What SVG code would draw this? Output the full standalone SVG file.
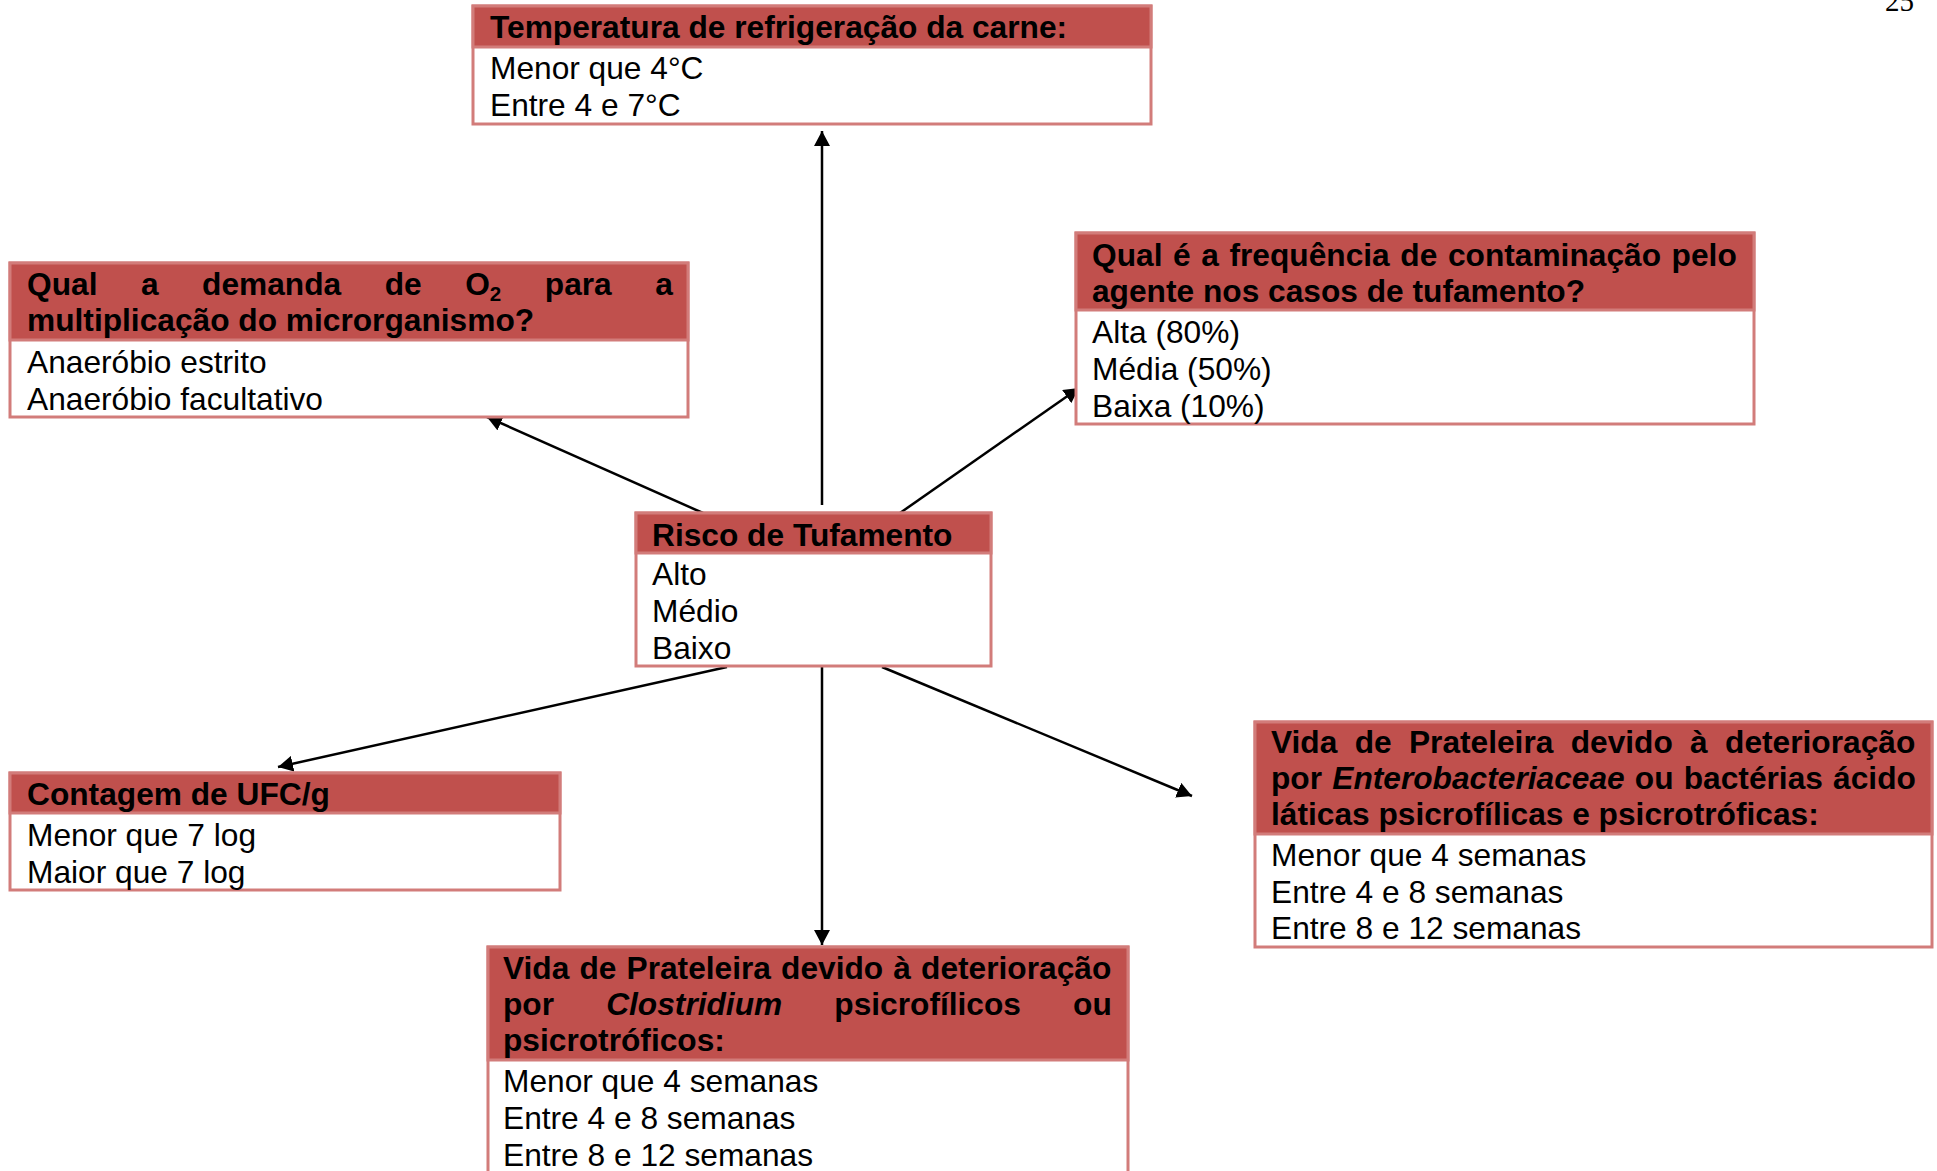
<svg xmlns="http://www.w3.org/2000/svg" width="1937" height="1171" viewBox="0 0 1937 1171">
  <defs>
    <marker id="arr" markerUnits="userSpaceOnUse" markerWidth="16" markerHeight="16" refX="15" refY="8" orient="auto">
      <path d="M0,0 L15,8 L0,16 z" fill="#000"/>
    </marker>
    <style>
      .box { fill: #ffffff; stroke: #D27C7A; stroke-width: 3; }
      .hd { fill: #C0504D; stroke: #D27C7A; stroke-width: 3; }
      .t { font-family: "Liberation Sans", Arial, sans-serif; font-size: 31.7px; fill: #000000; }
      .b { font-weight: bold; }
      .i { font-style: italic; }
      .conn line { stroke: #000000; stroke-width: 2.5; fill: none; marker-end: url(#arr); }
      .pg { font-family: "Liberation Serif", "Times New Roman", serif; font-size: 29px; fill: #000000; }
    </style>
  </defs>

  <rect width="1937" height="1171" fill="#ffffff"/>

  <!-- page number -->
  <text class="pg" x="1885" y="11">25</text>

  <!-- connectors from the central node -->
  <g id="connectors" class="conn">
    <line x1="822" y1="505" x2="822" y2="131"/>
    <line x1="703" y1="513" x2="487" y2="417"/>
    <line x1="900" y1="513" x2="1079" y2="388"/>
    <line x1="727" y1="667" x2="278" y2="767"/>
    <line x1="822" y1="667" x2="822" y2="945"/>
    <line x1="882" y1="667" x2="1192" y2="796"/>
  </g>

  <!-- Temperatura -->
  <g id="node-temperatura">
    <rect class="box" x="473" y="6" width="678" height="118"/>
    <rect class="hd" x="473" y="6" width="678" height="41"/>
    <text class="t b" x="490" y="38">Temperatura de refrigeração da carne:</text>
    <text class="t" x="490" y="79">Menor que 4°C</text>
    <text class="t" x="490" y="116">Entre 4 e 7°C</text>
  </g>

  <!-- Demanda de O2 -->
  <g id="node-oxigenio">
    <rect class="box" x="10" y="263" width="678" height="154"/>
    <rect class="hd" x="10" y="263" width="678" height="77"/>
    <text class="t b" x="27" y="295" word-spacing="34.7">Qual a demanda de O<tspan font-size="20.6" dy="6">2</tspan><tspan dy="-6"> para a</tspan></text>
    <text class="t b" x="27" y="331">multiplicação do microrganismo?</text>
    <text class="t" x="27" y="373">Anaeróbio estrito</text>
    <text class="t" x="27" y="410">Anaeróbio facultativo</text>
  </g>

  <!-- Frequência de contaminação -->
  <g id="node-frequencia">
    <rect class="box" x="1076" y="233" width="678" height="191"/>
    <rect class="hd" x="1076" y="233" width="678" height="77"/>
    <text class="t b" x="1092" y="266" word-spacing="1.8">Qual é a frequência de contaminação pelo</text>
    <text class="t b" x="1092" y="302">agente nos casos de tufamento?</text>
    <text class="t" x="1092" y="343">Alta (80%)</text>
    <text class="t" x="1092" y="380">Média (50%)</text>
    <text class="t" x="1092" y="417">Baixa (10%)</text>
  </g>

  <!-- Risco de Tufamento (central) -->
  <g id="node-risco">
    <rect class="box" x="636" y="513" width="355" height="153"/>
    <rect class="hd" x="636" y="513" width="355" height="40"/>
    <text class="t b" x="652" y="546">Risco de Tufamento</text>
    <text class="t" x="652" y="585">Alto</text>
    <text class="t" x="652" y="622">Médio</text>
    <text class="t" x="652" y="659">Baixo</text>
  </g>

  <!-- Contagem de UFC/g -->
  <g id="node-contagem">
    <rect class="box" x="10" y="773" width="550" height="117"/>
    <rect class="hd" x="10" y="773" width="550" height="40"/>
    <text class="t b" x="27" y="805">Contagem de UFC/g</text>
    <text class="t" x="27" y="846">Menor que 7 log</text>
    <text class="t" x="27" y="883">Maior que 7 log</text>
  </g>

  <!-- Vida de prateleira: Enterobacteriaceae -->
  <g id="node-entero">
    <rect class="box" x="1255" y="722" width="677" height="225"/>
    <rect class="hd" x="1255" y="722" width="677" height="112"/>
    <text class="t b" x="1271" y="753" word-spacing="8.5">Vida de Prateleira devido à deterioração</text>
    <text class="t b" x="1271" y="789" word-spacing="1.4">por <tspan class="i">Enterobacteriaceae</tspan> ou bactérias ácido</text>
    <text class="t b" x="1271" y="825">láticas psicrofílicas e psicrotróficas:</text>
    <text class="t" x="1271" y="866">Menor que 4 semanas</text>
    <text class="t" x="1271" y="903">Entre 4 e 8 semanas</text>
    <text class="t" x="1271" y="939">Entre 8 e 12 semanas</text>
  </g>

  <!-- Vida de prateleira: Clostridium -->
  <g id="node-clostridium">
    <rect class="box" x="488" y="947" width="640" height="240"/>
    <rect class="hd" x="488" y="947" width="640" height="113"/>
    <text class="t b" x="503" y="979" word-spacing="1.3">Vida de Prateleira devido à deterioração</text>
    <text class="t b" x="503" y="1015" word-spacing="43.3">por <tspan class="i">Clostridium</tspan> psicrofílicos ou</text>
    <text class="t b" x="503" y="1051">psicrotróficos:</text>
    <text class="t" x="503" y="1092">Menor que 4 semanas</text>
    <text class="t" x="503" y="1129">Entre 4 e 8 semanas</text>
    <text class="t" x="503" y="1166">Entre 8 e 12 semanas</text>
  </g>
</svg>
